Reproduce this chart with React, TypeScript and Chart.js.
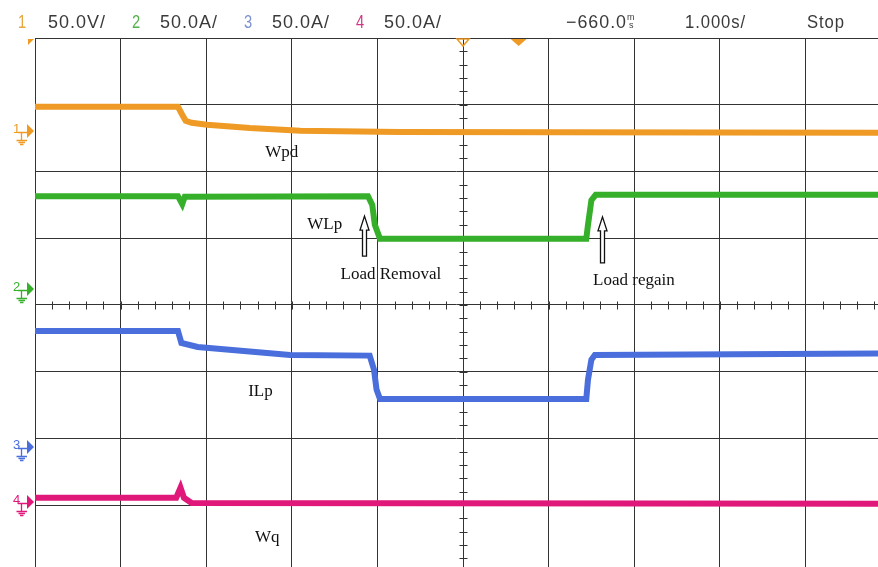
import React, { useEffect, useRef } from "react";
import { Chart, registerables } from "chart.js";

Chart.register(...registerables);

// ---- data (x in divisions of 1.000 s, y in vertical divisions, 0 = screen centre) ----
const wpdT = [0, 1.67, 1.72, 1.76, 1.83, 2.01, 2.51, 3.1, 4.26, 9.85];
const wpdV = [2.97, 2.97, 2.85, 2.76, 2.73, 2.7, 2.65, 2.61, 2.59, 2.58];

const wlpT = [0, 1.67, 1.72, 1.75, 3.89, 3.94, 3.97, 4.03, 6.44, 6.46, 6.5, 6.55, 9.85];
const wlpV = [1.63, 1.63, 1.51, 1.62, 1.63, 1.5, 1.2, 0.99, 0.99, 1.2, 1.57, 1.65, 1.65];

const ilpT = [0, 1.67, 1.71, 1.9, 2.98, 3.91, 3.96, 3.99, 4.03, 6.44, 6.46, 6.5, 6.54, 9.85];
const ilpV = [-0.39, -0.39, -0.57, -0.63, -0.75, -0.76, -0.97, -1.27, -1.41, -1.41, -1.12, -0.82, -0.75, -0.73];

const wqT = [0, 1.65, 1.7, 1.74, 1.83, 9.85];
const wqV = [-2.89, -2.89, -2.74, -2.89, -2.97, -2.98];

const xGrid = [0, 1, 2, 3, 4, 5, 6, 7, 8, 9];
const yGrid = [-3, -2, -1, 0, 1, 2, 3, 4];

const channelNames = ["1", "2", "3", "4"];
const channelScales = ["50.0V/", "50.0A/", "50.0A/", "50.0A/"];
const channelColors = ["#EE9A25", "#36B02A", "#4A6EDC", "#E0187A"];
const groundLevels = [2.61, 0.24, -2.13, -2.95];
const headerColors = ["#E6A640", "#55B04C", "#7D92D2", "#D23585"];
const delayText = "\u2212660.0";
const timebaseText = "1.000s/";
const stateText = "Stop";
const triggerPos = 5;
const triggerLevelPos = 5.65;

const labels = ["Wpd", "WLp", "Load Removal", "Load regain", "ILp", "Wq"];
const labelX = [2.69, 3.18, 3.57, 6.52, 2.49, 2.57];
const labelY = [2.29, 1.21, 0.46, 0.36, -1.3, -3.48];

const arrowX = [3.84, 6.62];
const arrowTip = [1.33, 1.32];
const arrowBase = [0.73, 0.63];

const X_MAX = 9.848;
const Y_MIN = -3.928;
const Y_MAX = 4;

const pts = (t: number[], v: number[]) => t.map((x, i) => ({ x, y: v[i] }));

const overlay = {
  id: "scopeOverlay",
  beforeDatasetsDraw(chart: any) {
    const { ctx } = chart;
    const xs = chart.scales.x;
    const ys = chart.scales.y;
    const cx = Math.round(xs.getPixelForValue(5)) + 0.5;
    const cy = Math.round(ys.getPixelForValue(0)) + 0.5;
    ctx.save();
    ctx.strokeStyle = "#333";
    ctx.lineWidth = 1;
    ctx.beginPath();
    for (let i = -20; i <= 20; i++) {
      const k = i / 5;
      if (k < Y_MIN || k > Y_MAX) continue;
      const py = Math.round(ys.getPixelForValue(k)) + 0.5;
      ctx.moveTo(cx - 4, py);
      ctx.lineTo(cx + 4, py);
    }
    for (let i = 0; i <= 50; i++) {
      const k = i / 5;
      if (k > X_MAX) continue;
      const px = Math.round(xs.getPixelForValue(k)) + 0.5;
      ctx.moveTo(px, cy - 4);
      ctx.lineTo(px, cy + 4);
    }
    ctx.stroke();
    ctx.restore();
  },
  afterDraw(chart: any) {
    const { ctx } = chart;
    const xs = chart.scales.x;
    const ys = chart.scales.y;
    ctx.save();

    // annotation text
    ctx.fillStyle = "#111";
    ctx.font = "17px 'Liberation Serif', 'DejaVu Serif', serif";
    ctx.textBaseline = "middle";
    ctx.textAlign = "left";
    labels.forEach((t, i) => {
      ctx.fillText(t, xs.getPixelForValue(labelX[i]), ys.getPixelForValue(labelY[i]));
    });

    // hollow arrows
    arrowX.forEach((ax, i) => {
      const x = Math.round(xs.getPixelForValue(ax)) + 0.5;
      const tip = ys.getPixelForValue(arrowTip[i]);
      const base = ys.getPixelForValue(arrowBase[i]);
      ctx.beginPath();
      ctx.moveTo(x, tip);
      ctx.lineTo(x + 4.5, tip + 14);
      ctx.lineTo(x + 2, tip + 14);
      ctx.lineTo(x + 2, base);
      ctx.lineTo(x - 2, base);
      ctx.lineTo(x - 2, tip + 14);
      ctx.lineTo(x - 4.5, tip + 14);
      ctx.closePath();
      ctx.fillStyle = "#fff";
      ctx.fill();
      ctx.strokeStyle = "#111";
      ctx.lineWidth = 1.3;
      ctx.stroke();
    });

    // ground markers on the left
    groundLevels.forEach((lv, i) => {
      const py = Math.round(ys.getPixelForValue(lv));
      const c = channelColors[i];
      ctx.fillStyle = c;
      ctx.strokeStyle = c;
      ctx.lineWidth = 1.3;
      ctx.font = "13px 'Liberation Sans', sans-serif";
      ctx.textBaseline = "alphabetic";
      ctx.textAlign = "left";
      ctx.fillText(channelNames[i], 13, py + 2);
      ctx.beginPath();
      ctx.moveTo(18, py + 1.5);
      ctx.lineTo(28, py + 1.5);
      ctx.moveTo(21.5, py + 1.5);
      ctx.lineTo(21.5, py + 9);
      ctx.moveTo(16.5, py + 9.5);
      ctx.lineTo(27, py + 9.5);
      ctx.moveTo(18.5, py + 11.5);
      ctx.lineTo(25, py + 11.5);
      ctx.moveTo(20, py + 13.5);
      ctx.lineTo(23.5, py + 13.5);
      ctx.stroke();
      ctx.beginPath();
      ctx.moveTo(27, py - 7);
      ctx.lineTo(34, py);
      ctx.lineTo(27, py + 7);
      ctx.closePath();
      ctx.fill();
    });

    // top markers
    const top = chart.chartArea.top;
    ctx.fillStyle = channelColors[0];
    ctx.beginPath();
    ctx.moveTo(28, top + 1);
    ctx.lineTo(34, top + 1);
    ctx.lineTo(28, top + 7);
    ctx.closePath();
    ctx.fill();
    const tx = xs.getPixelForValue(triggerPos);
    ctx.strokeStyle = channelColors[0];
    ctx.lineWidth = 1.5;
    ctx.beginPath();
    ctx.moveTo(tx - 6, top + 1);
    ctx.lineTo(tx + 6, top + 1);
    ctx.lineTo(tx, top + 8);
    ctx.closePath();
    ctx.stroke();
    const lx = xs.getPixelForValue(triggerLevelPos);
    ctx.beginPath();
    ctx.moveTo(lx - 8, top + 1);
    ctx.lineTo(lx + 8, top + 1);
    ctx.lineTo(lx, top + 8);
    ctx.closePath();
    ctx.fill();

    // header
    const base = 28;
    ctx.textBaseline = "alphabetic";
    ctx.textAlign = "left";
    try {
      (ctx as any).letterSpacing = "1px";
    } catch (e) {}
    ctx.font = "18px 'Liberation Sans', 'DejaVu Sans', sans-serif";
    const numX = [18, 132, 244, 356];
    const valX = [48, 160, 272, 384];
    channelNames.forEach((n, i) => {
      ctx.fillStyle = headerColors[i];
      ctx.fillText(n, numX[i], base, 9);
      ctx.fillStyle = "#3a3a3a";
      ctx.fillText(channelScales[i], valX[i], base, 58);
    });
    ctx.fillStyle = "#3a3a3a";
    ctx.fillText(delayText, 566, base, 61);
    ctx.fillText(timebaseText, 685, base, 61);
    ctx.fillText(stateText, 807, base, 38);
    try {
      (ctx as any).letterSpacing = "0px";
    } catch (e) {}
    ctx.font = "9px 'Liberation Sans', sans-serif";
    ctx.fillText("m", 627, 20, 8);
    ctx.fillText("s", 629, 28, 6);
    ctx.restore();
  },
};

export default function App() {
  const ref = useRef<HTMLCanvasElement | null>(null);
  useEffect(() => {
    document.body.style.margin = "0";
    const canvas = ref.current!;
    const ds = (d: any[], color: string) => ({
      data: d,
      borderColor: color,
      backgroundColor: color,
      borderWidth: 6,
      pointRadius: 0,
      tension: 0,
      fill: false,
    });
    const chart = new Chart(canvas, {
      type: "line",
      data: {
        datasets: [
          ds(pts(wpdT, wpdV), channelColors[0]),
          ds(pts(wlpT, wlpV), channelColors[1]),
          ds(pts(ilpT, ilpV), channelColors[2]),
          ds(pts(wqT, wqV), channelColors[3]),
        ],
      },
      options: {
        animation: false,
        responsive: false,
        maintainAspectRatio: false,
        events: [],
        layout: { padding: { left: 35, top: 38, right: 0, bottom: 0 } },
        plugins: { legend: { display: false }, tooltip: { enabled: false } },
        scales: {
          x: {
            type: "linear",
            min: 0,
            max: X_MAX,
            ticks: { display: false },
            grid: { color: "#333", lineWidth: 1, drawTicks: false },
            border: { display: false },
            afterBuildTicks: (s: any) => {
              s.ticks = xGrid.map((v) => ({ value: v }));
            },
          },
          y: {
            type: "linear",
            min: Y_MIN,
            max: Y_MAX,
            ticks: { display: false },
            grid: { color: "#333", lineWidth: 1, drawTicks: false },
            border: { display: false },
            afterBuildTicks: (s: any) => {
              s.ticks = yGrid.map((v) => ({ value: v }));
            },
          },
        },
      },
      plugins: [overlay],
    } as any);
    return () => chart.destroy();
  }, []);
  return (
    <div style={{ width: 878, height: 567, background: "#fff", overflow: "hidden" }}>
      <canvas ref={ref} width={878} height={567} style={{ width: 878, height: 567, display: "block" }} />
    </div>
  );
}
